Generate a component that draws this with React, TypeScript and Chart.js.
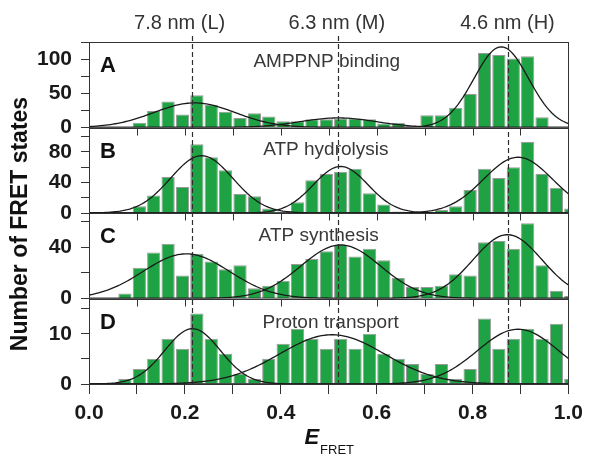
import React, { useEffect, useRef } from 'react';
import { Chart, registerables } from 'chart.js';

Chart.register(...registerables);

const FONT = "'Liberation Sans', Arial, Helvetica, sans-serif";
const GREEN = '#1fa243';

// FRET efficiency bin centres (bin width 0.03)
const binCenters = [
  0.015, 0.045, 0.075, 0.105, 0.135, 0.165, 0.195, 0.225, 0.255, 0.285, 0.315, 0.345,
  0.375, 0.405, 0.435, 0.465, 0.495, 0.525, 0.555, 0.585, 0.615, 0.645, 0.675, 0.705,
  0.735, 0.765, 0.795, 0.825, 0.855, 0.885, 0.915, 0.945, 0.975, 1.005,
];

// Number of FRET states per bin
const countsA = [0, 0, 0, 7, 24, 38, 19, 47, 33, 23, 14, 21, 16, 9, 9, 12, 12, 13, 13, 12, 6, 7, 0, 18, 18, 29, 49, 109, 106, 101, 104, 15, 0, 0];
const countsB = [0, 0, 0, 9, 23, 47, 34, 90, 73, 56, 25, 22, 6, 2, 14, 43, 51, 54, 58, 26, 11, 2, 0, 2, 4, 9, 30, 58, 46, 60, 93, 51, 33, 6];
const countsC = [0, 0, 4, 24, 36, 43, 18, 35, 29, 23, 26, 8, 10, 14, 27, 31, 37, 42, 33, 39, 30, 16, 9, 9, 10, 19, 18, 44, 45, 39, 59, 26, 6, 2];
const countsD = [0, 0, 1, 3, 5, 9, 7, 14, 9, 6, 2, 1, 5, 8, 11, 9, 7, 9, 7, 10, 6, 5, 4, 2, 4, 1, 3, 13, 7, 9, 11, 9, 12, 1];

// Gaussian fits (L, M, H): centre, height, width
const fitCentersA = [0.22, 0.52, 0.86];
const fitHeightsA = [36, 14, 118];
const fitWidthsA = [0.085, 0.08, 0.057];
const fitCentersB = [0.235, 0.525, 0.895];
const fitHeightsB = [75, 61, 73];
const fitWidthsB = [0.065, 0.057, 0.072];
const fitCentersC = [0.203, 0.525, 0.873];
const fitHeightsC = [35, 42, 50];
const fitWidthsC = [0.09, 0.083, 0.072];
const fitCentersD = [0.216, 0.507, 0.895];
const fitHeightsD = [11, 9.8, 10.9];
const fitWidthsD = [0.058, 0.11, 0.085];

// State markers
const stateLines = [0.215, 0.52, 0.875];
const stateLabels = ['7.8 nm (L)', '6.3 nm (M)', '4.6 nm (H)'];
const stateLabelAnchors = [0.189, 0.517, 0.873];

const panelLetters = ['A', 'B', 'C', 'D'];
const panelTitles = ['AMPPNP binding', 'ATP hydrolysis', 'ATP synthesis', 'Proton transport'];
const titleAnchors = [0.496, 0.494, 0.479, 0.504];
const titleBaselines = [25, 27, 28, 29];

const yMaxes = [125, 112, 67, 17];
const yTickSteps = [25, 20, 20, 5];
const yLabelSteps = [50, 40, 40, 10];
const panelIds = ['yA', 'yB', 'yC', 'yD'];

const curveXs: number[] = [];
for (let i = 0; i <= 200; i++) curveXs.push(i / 200);

const panelPlugin = {
  id: 'panelDecor',
  afterDatasetsDraw(chart: any) {
    const { ctx, chartArea: ca, scales } = chart;
    const xs = scales.x;
    ctx.save();

    // dashed state lines
    ctx.strokeStyle = '#2e2e2e';
    ctx.lineWidth = 1.2;
    ctx.setLineDash([5, 3]);
    stateLines.forEach((v) => {
      const px = Math.round(xs.getPixelForValue(v)) + 0.5;
      ctx.beginPath();
      ctx.moveTo(px, ca.top - 6);
      ctx.lineTo(px, ca.bottom);
      ctx.stroke();
    });
    ctx.setLineDash([]);

    // panel frames
    ctx.strokeStyle = '#333';
    ctx.lineWidth = 1;
    panelIds.forEach((id) => {
      const s = scales[id];
      const t = Math.round(s.top) + 0.5;
      const b = Math.round(s.bottom) + 0.5;
      ctx.strokeRect(Math.round(ca.left) + 0.5, t, Math.round(ca.right) - Math.round(ca.left), b - t);
    });

    // ticks on panel separators
    for (let i = 0; i < 3; i++) {
      const y0 = Math.round(scales[panelIds[i]].bottom) + 0.5;
      xs.ticks.forEach((tk: any) => {
        if (tk.value <= 0.001 || tk.value >= 0.999) return;
        const px = Math.round(xs.getPixelForValue(tk.value)) + 0.5;
        ctx.beginPath();
        ctx.moveTo(px, y0);
        ctx.lineTo(px, y0 + 7);
        ctx.stroke();
      });
    }

    // state labels on top
    ctx.fillStyle = '#333';
    ctx.font = `20px ${FONT}`;
    ctx.textAlign = 'center';
    ctx.textBaseline = 'alphabetic';
    stateLabels.forEach((txt, i) => {
      ctx.fillText(txt, xs.getPixelForValue(stateLabelAnchors[i]), 29);
    });

    // panel letters and titles
    panelIds.forEach((id, i) => {
      const s = scales[id];
      ctx.fillStyle = '#111';
      ctx.font = `bold 22px ${FONT}`;
      ctx.textAlign = 'left';
      ctx.fillText(panelLetters[i], ca.left + 11, s.top + 30);
      ctx.fillStyle = '#383838';
      ctx.font = `19px ${FONT}`;
      ctx.textAlign = 'center';
      ctx.fillText(panelTitles[i], xs.getPixelForValue(titleAnchors[i]), s.top + titleBaselines[i]);
    });

    // y title
    ctx.save();
    ctx.translate(20.5, 224);
    ctx.rotate(-Math.PI / 2);
    ctx.fillStyle = '#111';
    ctx.font = `bold 23px ${FONT}`;
    ctx.textAlign = 'center';
    ctx.textBaseline = 'middle';
    ctx.fillText('Number of FRET states', 0, 0);
    ctx.restore();

    // x title  E_FRET
    ctx.textBaseline = 'alphabetic';
    ctx.textAlign = 'left';
    ctx.font = `italic bold 22px ${FONT}`;
    const wE = ctx.measureText('E').width;
    ctx.font = `13px ${FONT}`;
    const wF = ctx.measureText('FRET').width;
    const cx = (ca.left + ca.right) / 2;
    const x0 = cx - (wE + wF) / 2;
    ctx.fillStyle = '#111';
    ctx.font = `italic bold 22px ${FONT}`;
    ctx.fillText('E', x0, 444);
    ctx.font = `13px ${FONT}`;
    ctx.fillText('FRET', x0 + wE + 1, 454);

    ctx.restore();
  },
};

function yAxis(i: number) {
  return {
    type: 'linear',
    position: 'left',
    stack: 'panels',
    stackWeight: 1,
    min: 0,
    max: yMaxes[i],
    afterFit: (s: any) => {
      s.width = 89;
    },
    border: { display: false },
    grid: { drawOnChartArea: false, drawTicks: true, tickLength: 8, color: '#333', lineWidth: 1 },
    ticks: {
      stepSize: yTickSteps[i],
      autoSkip: false,
      includeBounds: false,
      padding: 9,
      color: '#1a1a1a',
      font: { family: FONT, size: 21, weight: 'bold' },
      callback: (v: any) => (Math.round(v) % yLabelSteps[i] === 0 ? String(v) : ''),
    },
  };
}

export default function App() {
  const ref = useRef<HTMLCanvasElement>(null);

  useEffect(() => {
    if (!ref.current) return;
    const panels = [
      { id: 'yA', counts: countsA, c: fitCentersA, h: fitHeightsA, w: fitWidthsA },
      { id: 'yB', counts: countsB, c: fitCentersB, h: fitHeightsB, w: fitWidthsB },
      { id: 'yC', counts: countsC, c: fitCentersC, h: fitHeightsC, w: fitWidthsC },
      { id: 'yD', counts: countsD, c: fitCentersD, h: fitHeightsD, w: fitWidthsD },
    ];
    const datasets: any[] = [];
    panels.forEach((p) => {
      datasets.push({
        type: 'bar',
        yAxisID: p.id,
        data: binCenters.map((x, i) => ({ x, y: p.counts[i] })),
        backgroundColor: GREEN,
        borderColor: '#9a9a9a',
        borderWidth: 1,
        barPercentage: 0.92,
        categoryPercentage: 1,
        grouped: false,
        order: 2,
      });
      p.c.forEach((mu, k) => {
        datasets.push({
          type: 'line',
          yAxisID: p.id,
          data: curveXs.map((x) => ({ x, y: p.h[k] * Math.exp(-((x - mu) ** 2) / (2 * p.w[k] ** 2)) })),
          borderColor: '#1a1a1a',
          borderWidth: 1.3,
          pointRadius: 0,
          fill: false,
          tension: 0,
          order: 1,
        });
      });
    });

    const chart = new Chart(ref.current, {
      type: 'bar',
      data: { datasets },
      options: {
        responsive: false,
        maintainAspectRatio: false,
        devicePixelRatio: 1,
        animation: false,
        layout: { padding: { top: 42, right: 19, bottom: 0, left: 0 } },
        plugins: { legend: { display: false }, tooltip: { enabled: false } },
        scales: {
          x: {
            type: 'linear',
            position: 'bottom',
            min: 0,
            max: 1,
            offset: false,
            afterFit: (s: any) => {
              s.height = 79;
            },
            border: { display: false },
            grid: { drawOnChartArea: false, drawTicks: true, tickLength: 10, color: '#333', offset: false },
            ticks: {
              stepSize: 0.1,
              autoSkip: false,
              maxRotation: 0,
              padding: 7,
              color: '#1a1a1a',
              font: { family: FONT, size: 21, weight: 'bold' },
              callback: (v: any) => (Math.round(v * 10) % 2 === 0 ? Number(v).toFixed(1) : ''),
            },
          },
          yD: yAxis(3),
          yC: yAxis(2),
          yB: yAxis(1),
          yA: yAxis(0),
        } as any,
      },
      plugins: [panelPlugin],
    } as any);
    return () => chart.destroy();
  }, []);

  return (
    <div style={{ position: 'absolute', left: 0, top: 0, width: 590, height: 463, background: '#fff' }}>
      <canvas ref={ref} width={590} height={463} style={{ width: 590, height: 463 }} />
    </div>
  );
}
